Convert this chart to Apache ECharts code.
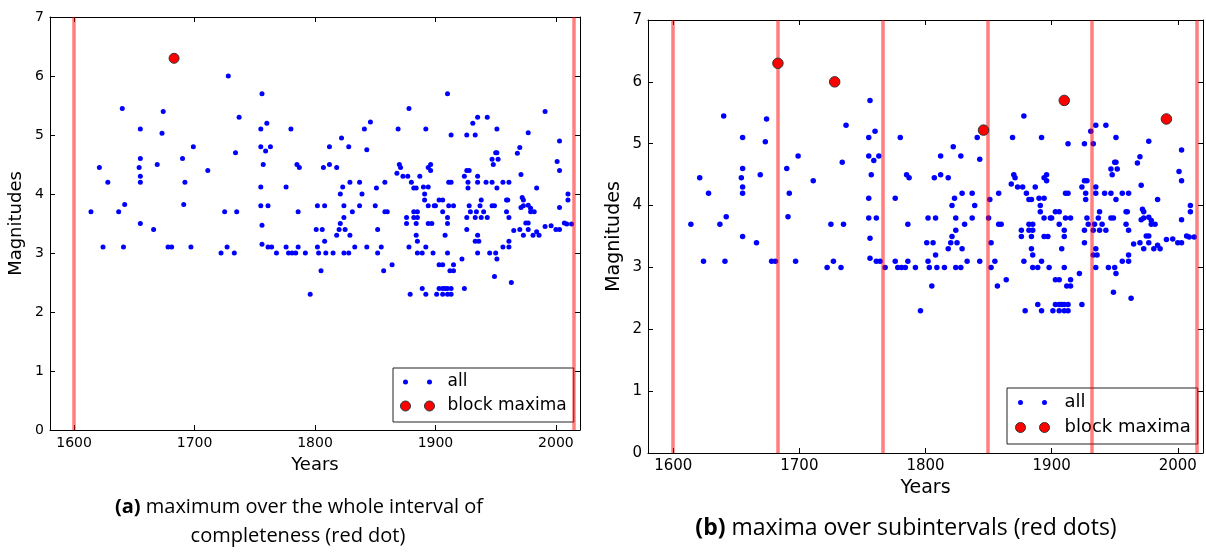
<!DOCTYPE html>
<html>
<head>
<meta charset="utf-8">
<script src="https://cdn.jsdelivr.net/npm/echarts@6/dist/echarts.min.js"></script>
<style>
  html, body { margin: 0; padding: 0; background: #fff; }
  #chart { width: 1206px; height: 552px; }
</style>
</head>
<body>
<div id="chart"></div>
<script>
// ---- data ----
const allYears = [
  1614,1621,1624,1628,1637,1640,1641,1642,1654,1655,1655,1655,1655,1655,1666,1669,1673,1674,1678,1681,
  1683,1690,1691,1692,1697,1699,1711,1722,1725,1727,1728,1733,1734,1735,1737,1755,1755,1755,1755,1756,
  1756,1756,1757,1759,1760,1761,1761,1763,1764,1768,1776,1776,1778,1780,1781,1784,1785,1786,1786,1787,
  1792,1796,1801,1802,1802,1803,1805,1806,1807,1808,1808,1809,1812,1812,1815,1818,1818,1820,1821,1821,
  1822,1823,1824,1824,1824,1825,1828,1828,1829,1829,1831,1833,1837,1837,1839,1841,1843,1843,1846,1850,
  1851,1852,1852,1855,1857,1858,1858,1860,1864,1868,1869,1870,1871,1873,1876,1876,1877,1878,1878,1879,
  1880,1882,1882,1882,1884,1884,1884,1885,1885,1885,1885,1887,1889,1889,1890,1891,1891,1892,1892,1892,
  1894,1894,1894,1894,1896,1896,1897,1898,1899,1900,1901,1903,1903,1903,1906,1906,1906,1906,1906,1908,
  1908,1910,1910,1910,1910,1910,1910,1911,1911,1912,1913,1913,1913,1913,1915,1915,1915,1922,1924,1924,
  1926,1926,1926,1926,1927,1927,1928,1928,1929,1931,1933,1933,1933,1934,1935,1935,1935,1935,1935,1936,
  1937,1938,1938,1940,1942,1943,1943,1945,1947,1947,1947,1948,1949,1949,1950,1950,1951,1951,1951,1951,
  1952,1956,1956,1959,1959,1960,1961,1961,1961,1961,1963,1965,1968,1970,1970,1971,1971,1972,1973,1973,
  1973,1975,1977,1977,1977,1977,1979,1979,1981,1982,1984,1984,1986,1991,1991,1996,2000,2001,2003,2003,
  2003,2003,2007,2009,2010,2010,2013
];
const allMagnitudes = [
  3.7,4.45,3.1,4.2,3.7,5.45,3.1,3.82,4.45,5.1,4.6,4.3,4.2,3.5,3.4,4.5,5.03,5.4,3.1,3.1,
  6.3,4.6,3.82,4.2,3.1,4.8,4.4,3.0,3.7,3.1,6.0,3.0,4.7,3.7,5.3,5.1,4.8,4.12,3.8,5.7,
  3.47,3.15,4.5,4.73,5.2,3.8,3.1,4.8,3.1,3.0,3.1,4.12,3.0,5.1,3.0,3.0,4.5,3.1,3.7,4.45,
  3.0,2.3,3.4,3.8,3.1,3.0,2.7,3.4,4.45,3.8,3.2,3.0,4.8,4.5,3.0,4.45,3.3,3.4,4.0,3.5,
  4.95,4.12,3.8,3.6,3.0,3.4,4.8,3.0,4.2,3.3,3.7,3.1,4.2,3.8,4.0,5.1,4.75,3.1,5.22,3.8,
  4.1,3.0,3.4,3.1,2.7,4.2,3.7,3.7,2.8,4.35,5.1,4.5,4.45,4.3,3.6,3.5,4.3,5.45,3.1,2.3,
  4.2,4.1,3.7,3.6,4.1,3.5,3.3,3.7,3.6,3.2,3.0,4.3,3.0,2.4,4.12,4.0,3.9,5.1,3.1,2.3,
  4.45,4.12,3.8,3.5,4.5,4.4,3.5,3.0,3.8,3.8,2.3,3.9,2.8,2.4,3.9,3.7,2.8,2.4,2.3,3.3,
  2.4,5.7,3.6,3.5,3.0,2.4,2.3,3.8,4.2,2.7,5.0,4.2,2.4,2.3,3.8,2.8,2.7,2.9,4.3,2.4,
  5.0,4.4,3.6,3.4,4.2,4.1,4.4,3.8,3.7,5.2,5.0,3.6,3.2,3.7,5.3,4.3,4.2,3.3,3.0,3.2,
  3.8,3.9,3.6,3.7,4.2,5.3,3.6,3.0,4.59,4.2,3.8,4.5,3.8,2.6,4.7,3.0,5.1,4.7,4.1,2.9,
  4.59,4.2,3.1,3.9,3.7,3.9,4.2,3.6,3.2,3.1,2.5,3.38,4.69,4.79,3.4,4.33,3.77,3.94,3.9,3.8,
  3.3,3.51,5.04,3.81,3.51,3.4,3.76,3.7,3.3,3.7,4.1,3.36,3.3,5.4,3.45,3.46,3.4,4.55,4.9,4.4,
  3.77,3.4,3.51,3.49,4.0,3.9,3.49
];
// (a) single maximum over the whole interval
const wholeMaxYears = [1683];
const wholeMaxMagnitudes = [6.3];
const wholeBounds = [1600, 2015];
// (b) maxima over subintervals
const blockMaxYears = [1683, 1728, 1846, 1910, 1991];
const blockMaxMagnitudes = [6.3, 6.0, 5.22, 5.7, 5.4];
const blockBounds = [1600, 1683, 1766, 1849, 1932, 2015];
// axes
const xMin = 1580, xMax = 2020;
const xTicks = [1600, 1700, 1800, 1900, 2000];
const yMin = 0, yMax = 7, yStep = 1;
const xName = 'Years', yName = 'Magnitudes';
const seriesNames = ['all', 'block maxima'];
const captionA1 = '(a)', captionA2 = ' maximum over the whole interval of', captionA3 = 'completeness (red dot)';
const captionB1 = '(b)', captionB2 = ' maxima over subintervals (red dots)';

// ---- drawing ----
const FONT = 'DejaVu Sans';
const CAP_FONT = 'Open Sans';
const zip = (a, b) => a.map((v, i) => [v, b[i]]);

function xAxisDef(grid, pos, fs, nfs, gap) {
  const bottom = pos === 'bottom';
  return {
    type: 'value', gridIndex: grid, position: pos, min: xMin, max: xMax,
    name: bottom ? xName : '', nameLocation: 'middle', nameGap: gap,
    nameTextStyle: { fontFamily: FONT, fontSize: nfs, color: '#000' },
    axisLine: { show: true, onZero: false, lineStyle: { color: '#000', width: 1 } },
    axisTick: { show: true, inside: true, length: 5, customValues: xTicks, lineStyle: { color: '#000' } },
    axisLabel: { show: bottom, customValues: xTicks, margin: 6, fontFamily: FONT, fontSize: fs, color: '#000',
                 formatter: v => String(v) },
    splitLine: { show: false }
  };
}
function yAxisDef(grid, pos, fs, nfs, gap) {
  const left = pos === 'left';
  return {
    type: 'value', gridIndex: grid, position: pos, min: yMin, max: yMax, interval: yStep,
    name: left ? yName : '', nameLocation: 'middle', nameGap: gap,
    nameTextStyle: { fontFamily: FONT, fontSize: nfs, color: '#000' },
    axisLine: { show: true, onZero: false, lineStyle: { color: '#000', width: 1 } },
    axisTick: { show: true, inside: true, length: 5, lineStyle: { color: '#000' } },
    axisLabel: { show: left, margin: 6, fontFamily: FONT, fontSize: fs, color: '#000' },
    splitLine: { show: false }
  };
}
function boundsLine(bounds) {
  return {
    silent: true, symbol: ['none', 'none'], label: { show: false }, animation: false,
    emphasis: { disabled: true },
    lineStyle: { color: 'rgba(255,0,0,0.5)', width: 3.5, type: 'solid', opacity: 1 },
    data: bounds.map(v => ({ xAxis: v }))
  };
}
const dotsIcon = (w) => `path://M0,0 M${w},10 M2.5,5 A2.5,2.5 0 1 1 7.5,5 A2.5,2.5 0 1 1 2.5,5 Z M26.5,5 A2.5,2.5 0 1 1 31.5,5 A2.5,2.5 0 1 1 26.5,5 Z`;
const bigIcon = (w) => `path://M0,0 M${w},10 M0,5 A5,5 0 1 1 10,5 A5,5 0 1 1 0,5 Z M24,5 A5,5 0 1 1 34,5 A5,5 0 1 1 24,5 Z`;

function legendDef(left, top, w, fs, lh, gap, pad) {
  return {
    orient: 'vertical', left: left, top: top, itemWidth: w, itemHeight: 10, itemGap: gap,
    padding: pad, borderColor: '#222', borderWidth: 1, backgroundColor: '#fff',
    selectedMode: false,
    textStyle: { fontFamily: FONT, fontSize: fs, lineHeight: lh, color: '#000' },
    data: [
      { name: seriesNames[0], icon: dotsIcon(w), itemStyle: { color: '#0000ff', borderWidth: 0, opacity: 1 } },
      { name: seriesNames[1], icon: bigIcon(w), itemStyle: { color: '#ff0000', borderColor: '#333', borderWidth: 1, opacity: 1 } }
    ]
  };
}

const blueStyle = { color: '#0000ff', opacity: 1 };
const redStyle = { color: '#ff0000', borderColor: '#333', borderWidth: 1, opacity: 1 };

const option = {
  animation: false,
  backgroundColor: '#fff',
  grid: [
    { left: 50, top: 17, width: 530, height: 413 },
    { left: 648, top: 20, width: 555, height: 433 }
  ],
  xAxis: [xAxisDef(0, 'bottom', 14, 18, 26), xAxisDef(0, 'top', 14, 18, 0),
          xAxisDef(1, 'bottom', 15, 19, 26), xAxisDef(1, 'top', 15, 19, 0)],
  yAxis: [yAxisDef(0, 'left', 14, 18, 25), yAxisDef(0, 'right', 14, 18, 0),
          yAxisDef(1, 'left', 15, 19, 24), yAxisDef(1, 'right', 15, 19, 0)],
  legend: [
    legendDef(393, 368, 42, 17, 20, 4, [4, 7, 6, 7]),
    legendDef(1007, 388, 44, 18, 21, 4, [4, 7, 6, 8])
  ],
  series: [
    { type: 'scatter', name: seriesNames[0], xAxisIndex: 0, yAxisIndex: 0, z: 2, symbolSize: 5,
      itemStyle: blueStyle, emphasis: { disabled: true },
      data: zip(allYears, allMagnitudes), markLine: boundsLine(wholeBounds) },
    { type: 'scatter', name: seriesNames[1], xAxisIndex: 0, yAxisIndex: 0, z: 6, symbolSize: 10,
      itemStyle: redStyle, emphasis: { disabled: true },
      data: zip(wholeMaxYears, wholeMaxMagnitudes) },
    { type: 'scatter', name: seriesNames[0], xAxisIndex: 2, yAxisIndex: 2, z: 2, symbolSize: 5.5,
      itemStyle: blueStyle, emphasis: { disabled: true },
      data: zip(allYears, allMagnitudes), markLine: boundsLine(blockBounds) },
    { type: 'scatter', name: seriesNames[1], xAxisIndex: 2, yAxisIndex: 2, z: 6, symbolSize: 10.5,
      itemStyle: redStyle, emphasis: { disabled: true },
      data: zip(blockMaxYears, blockMaxMagnitudes) }
  ],
  graphic: [
    { type: 'text', x: 299, y: 507, style: { text: '{b|' + captionA1 + '}' + captionA2, fill: '#000',
        font: '20px "' + CAP_FONT + '"', align: 'center', verticalAlign: 'middle',
        rich: { b: { fontWeight: 'bold', fontSize: 20, fontFamily: CAP_FONT, fill: '#000' } } } },
    { type: 'text', x: 298, y: 536, style: { text: captionA3, fill: '#000',
        font: '20px "' + CAP_FONT + '"', align: 'center', verticalAlign: 'middle' } },
    { type: 'text', x: 906, y: 528, style: { text: '{b|' + captionB1 + '}' + captionB2, fill: '#000',
        font: '23px "' + CAP_FONT + '"', align: 'center', verticalAlign: 'middle',
        rich: { b: { fontWeight: 'bold', fontSize: 23, fontFamily: CAP_FONT, fill: '#000' } } } }
  ]
};

const chart = echarts.init(document.getElementById('chart'), null, { renderer: 'canvas' });
chart.setOption(option);
</script>
</body>
</html>
